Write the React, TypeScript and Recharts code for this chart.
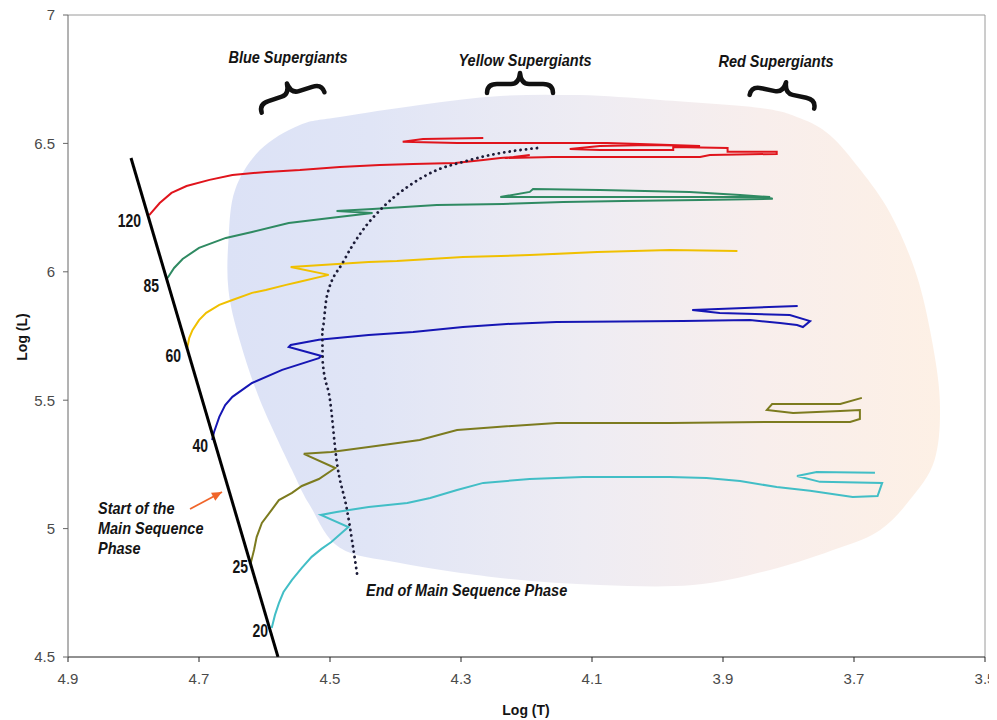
import React from 'react';
import { LineChart, Line, XAxis, YAxis, ReferenceArea, ReferenceLine } from 'recharts';

type P = [number, number];

const X_MIN = 3.5;
const X_MAX = 4.9;
const Y_MIN = 4.5;
const Y_MAX = 7;
const xTicks = [4.9, 4.7, 4.5, 4.3, 4.1, 3.9, 3.7, 3.5];
const yTicks = [4.5, 5, 5.5, 6, 6.5, 7];

// Evolutionary tracks: [log T, log L]
const track120: P[] = [
  [4.776, 6.221], [4.760, 6.268], [4.742, 6.307], [4.719, 6.334], [4.684, 6.358], [4.649, 6.377],
  [4.597, 6.389], [4.546, 6.396], [4.485, 6.408], [4.424, 6.416], [4.373, 6.420], [4.309, 6.424],
  [4.266, 6.435], [4.240, 6.443], [4.220, 6.447], [4.195, 6.455], [4.233, 6.443], [4.160, 6.447],
  [4.057, 6.447], [3.935, 6.447], [3.920, 6.455], [3.818, 6.459], [3.818, 6.467], [3.863, 6.467],
  [3.893, 6.467], [3.893, 6.482], [3.976, 6.486], [3.976, 6.474], [4.088, 6.474], [4.134, 6.478],
  [4.088, 6.490], [4.011, 6.494], [3.935, 6.490], [4.027, 6.498], [4.077, 6.502], [4.179, 6.502],
  [4.306, 6.502], [4.389, 6.506], [4.358, 6.517], [4.266, 6.521],
];
const track85: P[] = [
  [4.748, 5.976], [4.738, 6.015], [4.725, 6.050], [4.700, 6.093], [4.659, 6.132], [4.619, 6.155],
  [4.563, 6.190], [4.487, 6.213], [4.435, 6.229], [4.490, 6.237], [4.435, 6.245], [4.337, 6.260],
  [4.236, 6.264], [4.144, 6.272], [4.053, 6.276], [3.935, 6.280], [3.824, 6.284], [3.836, 6.291],
  [3.900, 6.291], [4.088, 6.291], [4.240, 6.291], [4.195, 6.311], [4.190, 6.322], [4.088, 6.319],
  [3.951, 6.311], [3.874, 6.299], [3.828, 6.291],
];
const track60: P[] = [
  [4.718, 5.703], [4.715, 5.742], [4.710, 5.773], [4.700, 5.812], [4.689, 5.840], [4.669, 5.871],
  [4.649, 5.890], [4.619, 5.918], [4.598, 5.929], [4.567, 5.949], [4.548, 5.960], [4.502, 5.988],
  [4.560, 6.019], [4.441, 6.038], [4.398, 6.042], [4.297, 6.058], [4.195, 6.065], [4.092, 6.077],
  [3.981, 6.085], [3.878, 6.081],
];
const track40: P[] = [
  [4.680, 5.345], [4.677, 5.376], [4.669, 5.435], [4.660, 5.481], [4.649, 5.513], [4.619, 5.567],
  [4.573, 5.618], [4.517, 5.664], [4.513, 5.672], [4.563, 5.707], [4.560, 5.715], [4.517, 5.735],
  [4.441, 5.754], [4.373, 5.766], [4.297, 5.785], [4.230, 5.797], [4.154, 5.805], [3.961, 5.808],
  [3.859, 5.812], [3.813, 5.801], [3.787, 5.793], [3.778, 5.785], [3.767, 5.808], [3.798, 5.832],
  [3.905, 5.840], [3.947, 5.851], [3.786, 5.867],
];
const track25: P[] = [
  [4.621, 4.866], [4.619, 4.886], [4.616, 4.917], [4.612, 4.967], [4.604, 5.022], [4.589, 5.073],
  [4.578, 5.111], [4.558, 5.139], [4.543, 5.166], [4.517, 5.193], [4.492, 5.236], [4.540, 5.291],
  [4.498, 5.298], [4.441, 5.318], [4.363, 5.345], [4.306, 5.384], [4.245, 5.396], [4.154, 5.411],
  [3.981, 5.411], [3.833, 5.415], [3.706, 5.415], [3.691, 5.427], [3.691, 5.462], [3.721, 5.458],
  [3.793, 5.450], [3.833, 5.462], [3.825, 5.485], [3.721, 5.485], [3.688, 5.509],
];
const track20: P[] = [
  [4.589, 4.613], [4.584, 4.664], [4.578, 4.710], [4.571, 4.753], [4.558, 4.800], [4.543, 4.847],
  [4.528, 4.890], [4.513, 4.921], [4.498, 4.948], [4.472, 5.006], [4.514, 5.053], [4.490, 5.065],
  [4.441, 5.084], [4.382, 5.100], [4.347, 5.119], [4.306, 5.150], [4.266, 5.178], [4.195, 5.193],
  [4.114, 5.201], [3.981, 5.201], [3.925, 5.197], [3.874, 5.185], [3.818, 5.162], [3.767, 5.147],
  [3.702, 5.123], [3.664, 5.127], [3.657, 5.178], [3.752, 5.182], [3.787, 5.205], [3.757, 5.220],
  [3.668, 5.217],
];

// Zero-age main sequence line and end of main sequence curve
const zamsLine: P[] = [[4.8038, 6.443], [4.5794, 4.5]];
const endMainSeq: P[] = [
  [4.184, 6.482], [4.255, 6.455], [4.297, 6.428], [4.337, 6.396], [4.382, 6.330], [4.419, 6.252],
  [4.452, 6.155], [4.480, 6.038], [4.505, 5.902], [4.512, 5.773], [4.511, 5.645], [4.500, 5.501],
  [4.490, 5.267], [4.474, 5.072], [4.458, 4.812],
];
const arrowPts: P[] = [[4.7137, 5.0764], [4.6649, 5.1426]];

// Shaded supergiant region outline
const blobOutline: P[] = [
  [4.655, 6.124], [4.645, 6.319], [4.607, 6.474], [4.546, 6.572], [4.485, 6.603], [4.363, 6.650],
  [4.240, 6.685], [4.119, 6.688], [3.996, 6.669], [3.843, 6.638], [3.783, 6.599], [3.737, 6.533],
  [3.690, 6.396], [3.645, 6.229], [3.607, 6.007], [3.584, 5.773], [3.569, 5.501], [3.577, 5.267],
  [3.615, 5.111], [3.660, 4.995], [3.722, 4.925], [3.828, 4.839], [3.946, 4.780], [4.088, 4.780],
  [4.240, 4.808], [4.393, 4.866], [4.485, 4.925], [4.531, 5.092], [4.558, 5.228], [4.607, 5.501],
  [4.638, 5.734], [4.655, 5.929],
];

const tracks = [
  { name: '120', data: track120, color: '#e0141c' },
  { name: '85', data: track85, color: '#2f8a62' },
  { name: '60', data: track60, color: '#f0c000' },
  { name: '40', data: track40, color: '#1616b4' },
  { name: '25', data: track25, color: '#7c7b1f' },
  { name: '20', data: track20, color: '#42bec6' },
];

const massLabels = [
  { text: '120', x: 141, y: 227 },
  { text: '85', x: 159, y: 292 },
  { text: '60', x: 181, y: 362 },
  { text: '40', x: 208, y: 452 },
  { text: '25', x: 248, y: 573 },
  { text: '20', x: 268, y: 637 },
];

const toPts = (a: P[]) => a.map(([t, l]) => ({ t, l }));

const BlobShape = (props: any) => {
  const { x, y, width, height } = props;
  const px = (t: number) => x + ((X_MAX - t) / (X_MAX - X_MIN)) * width;
  const py = (l: number) => y + ((Y_MAX - l) / (Y_MAX - Y_MIN)) * height;
  const pts = blobOutline.map(([t, l]) => [px(t), py(l)]);
  const n = pts.length;
  let d = `M${pts[0][0]},${pts[0][1]}`;
  for (let i = 0; i < n; i++) {
    const p0 = pts[(i - 1 + n) % n];
    const p1 = pts[i];
    const p2 = pts[(i + 1) % n];
    const p3 = pts[(i + 2) % n];
    const c1 = [p1[0] + (p2[0] - p0[0]) / 6, p1[1] + (p2[1] - p0[1]) / 6];
    const c2 = [p2[0] - (p3[0] - p1[0]) / 6, p2[1] - (p3[1] - p1[1]) / 6];
    d += ` C${c1[0]},${c1[1]} ${c2[0]},${c2[1]} ${p2[0]},${p2[1]}`;
  }
  d += ' Z';
  return (
    <g>
      <defs>
        <linearGradient id="blobGrad" x1="0" y1="0" x2="1" y2="0">
          <stop offset="0" stopColor="#dce2f6" />
          <stop offset="0.2" stopColor="#e0e5f6" />
          <stop offset="0.5" stopColor="#eeecf3" />
          <stop offset="0.75" stopColor="#f8eeec" />
          <stop offset="1" stopColor="#fdf0e5" />
        </linearGradient>
      </defs>
      <path d={d} fill="url(#blobGrad)" stroke="none" />
    </g>
  );
};

const ArrowDot = (props: any) => {
  const { cx, cy, index } = props;
  if (index !== arrowPts.length - 1) return <g key={`a${index}`} />;
  return (
    <polygon
      key={`a${index}`}
      points="0,0 -10,-4.5 -10,4.5"
      fill="#f0652a"
      transform={`translate(${cx},${cy}) rotate(-28)`}
    />
  );
};

const BRACE = 'M -33 10 Q -33 1 -23 1 L -9 1 Q -1 1 0 -10 Q 1 1 9 1 L 23 1 Q 33 1 33 10';

const Ann = ({ x, y, children, size = 14.5, anchor = 'start', italic = true, sy = 1.15 }: any) => (
  <text
    transform={`translate(${x},${y}) scale(1,${sy})`}
    textAnchor={anchor}
    fontSize={size}
    fontWeight="bold"
    fontStyle={italic ? 'italic' : 'normal'}
    fill="#141414"
    fontFamily='"Liberation Sans", Arial, sans-serif'
  >
    {children}
  </text>
);

export default function App() {
  return (
    <div
      style={{
        position: 'relative',
        width: 997,
        height: 720,
        margin: '-8px 0 0 -8px',
        fontFamily: '"Liberation Sans", Arial, sans-serif',
      }}
    >
      <LineChart width={997} height={720} margin={{ top: 15, right: 12, left: 0, bottom: 0 }}>
        <XAxis
          type="number"
          dataKey="t"
          domain={[X_MIN, X_MAX]}
          reversed
          allowDataOverflow
          ticks={xTicks}
          interval={0}
          height={63}
          tickSize={5}
          tickMargin={11}
          axisLine={{ stroke: '#222' }}
          tickLine={{ stroke: '#222' }}
          tick={{ fill: '#4a4a4a', fontSize: 15 }}
        />
        <YAxis
          type="number"
          dataKey="l"
          domain={[Y_MIN, Y_MAX]}
          allowDataOverflow
          ticks={yTicks}
          interval={0}
          width={68}
          tickSize={5}
          tickMargin={8}
          axisLine={{ stroke: '#666' }}
          tickLine={{ stroke: '#666' }}
          tick={{ fill: '#4a4a4a', fontSize: 15 }}
        />
        <ReferenceArea x1={X_MAX} x2={X_MIN} y1={Y_MIN} y2={Y_MAX} shape={BlobShape} ifOverflow="visible" />
        <ReferenceLine y={Y_MAX} stroke="#9a9a9a" />
        <ReferenceLine x={X_MIN} stroke="#9a9a9a" />
        {tracks.map((tr) => (
          <Line
            key={tr.name}
            data={toPts(tr.data)}
            dataKey="l"
            type="linear"
            stroke={tr.color}
            strokeWidth={2}
            dot={false}
            activeDot={false}
            isAnimationActive={false}
          />
        ))}
        <Line
          data={toPts(zamsLine)}
          dataKey="l"
          type="linear"
          stroke="#000"
          strokeWidth={3}
          dot={false}
          activeDot={false}
          isAnimationActive={false}
        />
        <Line
          data={toPts(endMainSeq)}
          dataKey="l"
          type="monotone"
          stroke="#1c1c38"
          strokeWidth={2.8}
          strokeDasharray="0.1 5.4"
          strokeLinecap="round"
          dot={false}
          activeDot={false}
          isAnimationActive={false}
        />
        <Line
          data={toPts(arrowPts)}
          dataKey="l"
          type="linear"
          stroke="#f0652a"
          strokeWidth={1.8}
          dot={ArrowDot}
          activeDot={false}
          isAnimationActive={false}
        />
      </LineChart>
      <svg
        width={997}
        height={720}
        style={{ position: 'absolute', left: 0, top: 0, pointerEvents: 'none' }}
      >
        <Ann x={288} y={63} anchor="middle">Blue Supergiants</Ann>
        <Ann x={525} y={66} anchor="middle">Yellow Supergiants</Ann>
        <Ann x={776} y={67} anchor="middle">Red Supergiants</Ann>
        <path d={BRACE} transform="translate(290,93) rotate(-18)" fill="none" stroke="#111" strokeWidth={4.5} strokeLinecap="round" strokeLinejoin="round" />
        <path d={BRACE} transform="translate(520,83)" fill="none" stroke="#111" strokeWidth={4.5} strokeLinecap="round" strokeLinejoin="round" />
        <path d={BRACE} transform="translate(784,92) rotate(12)" fill="none" stroke="#111" strokeWidth={4.5} strokeLinecap="round" strokeLinejoin="round" />
        <Ann x={366} y={596}>End of Main Sequence Phase</Ann>
        <Ann x={98} y={514}>Start of the</Ann>
        <Ann x={98} y={534}>Main Sequence</Ann>
        <Ann x={98} y={554}>Phase</Ann>
        {massLabels.map((m) => (
          <Ann key={m.text} x={m.x} y={m.y} anchor="end" italic={false} size={14} sy={1.25}>
            {m.text}
          </Ann>
        ))}
        <text
          transform="translate(27,337) rotate(-90)"
          textAnchor="middle"
          fontSize={14}
          fontWeight="bold"
          fill="#141414"
          fontFamily='"Liberation Sans", Arial, sans-serif'
        >
          Log (L)
        </text>
        <Ann x={526} y={715} anchor="middle" italic={false} size={14} sy={1.1}>Log (T)</Ann>
      </svg>
    </div>
  );
}
